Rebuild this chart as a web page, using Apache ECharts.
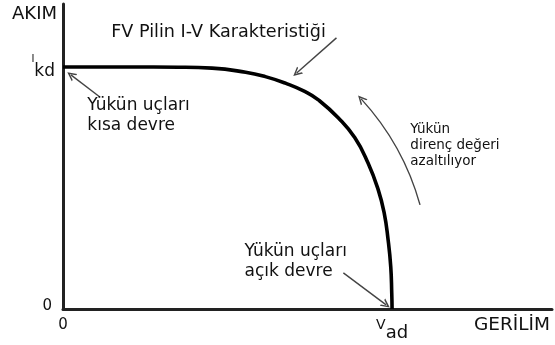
<!DOCTYPE html>
<html>
<head>
<meta charset="utf-8">
<script src="https://cdn.jsdelivr.net/npm/echarts@6/dist/echarts.min.js"></script>
<style>
html,body{margin:0;padding:0;background:#fff;}
#chart{width:555px;height:345px;}
</style>
</head>
<body>
<div id="chart"></div>
<script>
// I-V curve of a PV cell (normalised: V / Vad, I / Ikd)
const voltage = [0, 0.2, 0.35, 0.453, 0.555, 0.615, 0.676, 0.736, 0.776, 0.837, 0.887, 0.927, 0.958, 0.976, 0.988, 0.996, 0.999, 1.0];
const current = [1.0, 1.0, 0.999, 0.995, 0.978, 0.960, 0.933, 0.898, 0.864, 0.789, 0.707, 0.603, 0.492, 0.397, 0.285, 0.174, 0.066, 0.0];

// tick labels
const xTickValues = [0, 1];
const xTickLabels = ['0', '{v|V}{s|ad}'];
const yTickValues = [0, 1];
const yTickLabels = ['{p| }{z|0}', '{i|I}{s|kd}'];

// axis names
const xAxisName = 'GERİLİM';
const yAxisName = 'AKIM';

// annotations
const noteTexts = ['FV Pilin I-V Karakteristiği', 'Yükün uçları\nkısa devre', 'Yükün uçları\naçık devre', 'Yükün\ndirenç değeri\nazaltılıyor'];
const noteAnchors = [[0.148, 1.176], [0.0755, 0.878], [0.553, 0.277], [1.057, 0.773]];
const arrowFrom = [[0.831, 1.120], [0.112, 0.876], [0.852, 0.149], [1.085, 0.430]];
const arrowTo = [[0.710, 0.975], [0.024, 0.967], [0.982, 0.017], [0.906, 0.868]];
const arrowCurve = [0, 0, 0, -0.12];

const FONT = 'DejaVu Sans';
const INK = '#111';
const chevron = 'path://M0,10 L5,0 L10,10 L8.2,10 L5,3.6 L1.8,10 Z';

const noteStyles = [
  {fontSize: 17.6, lineHeight: 18},
  {fontSize: 17, lineHeight: 20},
  {fontSize: 17, lineHeight: 20},
  {fontSize: 13.5, lineHeight: 16}
];

const chart = echarts.init(document.getElementById('chart'), null, {renderer: 'canvas'});
chart.setOption({
  animation: false,
  backgroundColor: '#fff',
  grid: {left: 63, right: 0, top: 4, bottom: 36},
  xAxis: {
    type: 'value', min: 0, max: 1.486, interval: 1,
    name: xAxisName, nameLocation: 'end', nameGap: -2,
    nameTextStyle: {fontFamily: FONT, fontSize: 18.5, color: INK, align: 'right', verticalAlign: 'top', padding: [7, 0, 0, 0]},
    axisLine: {show: true, lineStyle: {color: '#222', width: 3}},
    axisTick: {show: false},
    splitLine: {show: false},
    axisLabel: {
      margin: 9, fontFamily: FONT, fontSize: 15, color: INK,
      formatter: v => { const k = xTickValues.indexOf(v); return k < 0 ? '' : xTickLabels[k]; },
      rich: {
        v: {fontFamily: FONT, fontSize: 14, lineHeight: 14, verticalAlign: 'top', color: INK},
        s: {fontFamily: FONT, fontSize: 18, lineHeight: 24, verticalAlign: 'bottom', color: INK}
      }
    }
  },
  yAxis: {
    type: 'value', min: 0, max: 1.26, interval: 1,
    name: yAxisName, nameLocation: 'end', nameGap: -10.3,
    nameTextStyle: {fontFamily: FONT, fontSize: 18, color: INK, align: 'right', verticalAlign: 'middle', padding: [0, 6, 0, 0]},
    axisLine: {show: true, lineStyle: {color: '#222', width: 3}},
    axisTick: {show: false},
    splitLine: {show: false},
    axisLabel: {
      margin: 8, fontFamily: FONT, fontSize: 15, color: INK,
      formatter: v => { const k = yTickValues.indexOf(v); return k < 0 ? '' : yTickLabels[k]; },
      rich: {
        p: {fontFamily: FONT, fontSize: 15, lineHeight: 21, color: INK},
        z: {fontFamily: FONT, fontSize: 15, lineHeight: 15, verticalAlign: 'top', padding: [0, 3, 0, 0], color: INK},
        i: {fontFamily: FONT, fontSize: 10, lineHeight: 10, verticalAlign: 'top', color: INK},
        s: {fontFamily: FONT, fontSize: 17, lineHeight: 26, verticalAlign: 'bottom', color: INK}
      }
    }
  },
  series: [{
    type: 'line',
    data: voltage.map((v, i) => [v, current[i]]),
    smooth: 0.5,
    symbol: 'none',
    lineStyle: {color: '#000', width: 3.6},
    markPoint: {
      silent: true,
      data: noteTexts.map((t, i) => ({
        coord: noteAnchors[i],
        symbol: 'rect',
        symbolSize: 1,
        itemStyle: {color: 'rgba(0,0,0,0)'},
        label: {
          show: true, position: [0, 0], align: 'left', verticalAlign: 'top',
          formatter: t, fontFamily: FONT, color: INK,
          fontSize: noteStyles[i].fontSize, lineHeight: noteStyles[i].lineHeight
        }
      }))
    }
  }, {
    type: 'lines',
    coordinateSystem: 'cartesian2d',
    silent: true,
    symbol: ['none', chevron],
    symbolSize: [10, 9],
    lineStyle: {color: '#444', width: 1.4, opacity: 1},
    data: arrowFrom.map((f, i) => ({
      coords: [f, arrowTo[i]],
      lineStyle: {curveness: arrowCurve[i]}
    }))
  }]
});
</script>
</body>
</html>
